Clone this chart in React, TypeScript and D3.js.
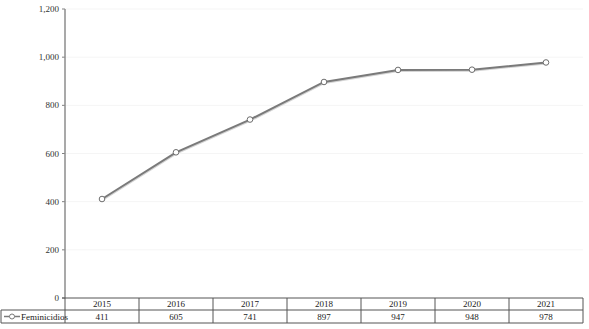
import React from "react";
import * as d3 from "d3";

const years = ["2015", "2016", "2017", "2018", "2019", "2020", "2021"];
const feminicidios = [411, 605, 741, 897, 947, 948, 978];
const yTicks = [0, 200, 400, 600, 800, 1000, 1200];
const seriesName = "Feminicidios";

const W = 589;
const H = 329;
const left = 65;
const right = 583;
const top = 9;
const bottom = 298;
const row1 = 310;
const row2 = 323;
const legendLeft = 1;

export default function App() {
  const x = d3.scaleBand<string>().domain(years).range([left, right]);
  const y = d3.scaleLinear().domain([0, 1200]).range([bottom, top]);
  const fmt = d3.format(",");
  const line = d3
    .line<number>()
    .x((_, i) => (x(years[i]) as number) + x.bandwidth() / 2)
    .y((d) => y(d));
  const font = "'Liberation Serif', 'DejaVu Serif', serif";
  return (
    <svg width={W} height={H} style={{ position: "absolute", left: 0, top: 0 }}>
      <rect width={W} height={H} fill="#fff" />
      {yTicks.map((t) => (
        <g key={t}>
          {t > 0 && (
            <line x1={left} x2={right} y1={y(t)} y2={y(t)} stroke="#f5f5f5" strokeWidth={1} />
          )}
          <line x1={left - 3} x2={left} y1={y(t)} y2={y(t)} stroke="#808080" strokeWidth={1} />
          <text
            x={left - 6}
            y={y(t)}
            dy="0.35em"
            textAnchor="end"
            fontFamily={font}
            fontSize={9}
            fill="#333"
          >
            {fmt(t)}
          </text>
        </g>
      ))}
      <line x1={left} x2={left} y1={top} y2={bottom} stroke="#8c8c8c" strokeWidth={1.5} />
      {/* table */}
      <line x1={left - 3} x2={right} y1={bottom} y2={bottom} stroke="#555" strokeWidth={1} />
      <line x1={legendLeft} x2={right} y1={row1} y2={row1} stroke="#555" strokeWidth={1} />
      <line x1={legendLeft} x2={right} y1={row2} y2={row2} stroke="#555" strokeWidth={1} />
      <line x1={legendLeft} x2={legendLeft} y1={row1} y2={row2} stroke="#555" strokeWidth={1} />
      {years.map((yr) => (
        <line
          key={yr}
          x1={(x(yr) as number) + x.bandwidth()}
          x2={(x(yr) as number) + x.bandwidth()}
          y1={bottom}
          y2={row2}
          stroke="#555"
          strokeWidth={1}
        />
      ))}
      <line x1={left} x2={left} y1={bottom} y2={row2} stroke="#555" strokeWidth={1} />
      {years.map((yr, i) => (
        <g key={yr}>
          <text
            x={(x(yr) as number) + x.bandwidth() / 2}
            y={(bottom + row1) / 2}
            dy="0.35em"
            textAnchor="middle"
            fontFamily={font}
            fontSize={9}
            fill="#222"
          >
            {yr}
          </text>
          <text
            x={(x(yr) as number) + x.bandwidth() / 2}
            y={(row1 + row2) / 2}
            dy="0.35em"
            textAnchor="middle"
            fontFamily={font}
            fontSize={9}
            fill="#222"
          >
            {feminicidios[i]}
          </text>
        </g>
      ))}
      {/* legend key */}
      <line x1={4} x2={20} y1={(row1 + row2) / 2} y2={(row1 + row2) / 2} stroke="#7a7a7a" strokeWidth={1.5} />
      <circle cx={12} cy={(row1 + row2) / 2} r={2.5} fill="#fff" stroke="#7a7a7a" strokeWidth={1} />
      <text x={21} y={(row1 + row2) / 2} dy="0.35em" fontFamily={font} fontSize={9} fill="#222">
        {seriesName}
      </text>
      {/* series */}
      <path d={line(feminicidios) || ""} fill="none" stroke="#d4d4d4" strokeWidth={2} transform="translate(0.5,1)" />
      <path d={line(feminicidios) || ""} fill="none" stroke="#7a7a7a" strokeWidth={2} />
      {feminicidios.map((v, i) => (
        <circle
          key={i}
          cx={(x(years[i]) as number) + x.bandwidth() / 2}
          cy={y(v)}
          r={2.8}
          fill="#fff"
          stroke="#6e6e6e"
          strokeWidth={1}
        />
      ))}
    </svg>
  );
}
